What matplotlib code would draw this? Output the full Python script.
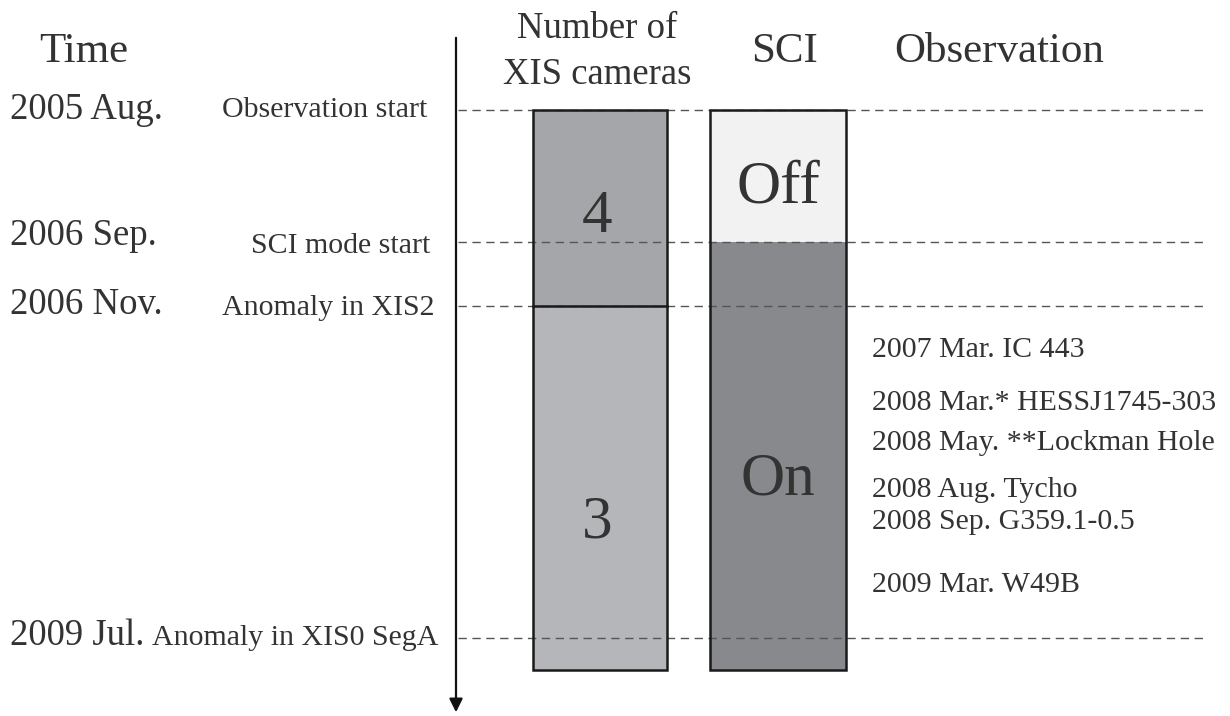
import matplotlib
matplotlib.use("Agg")
import matplotlib.pyplot as plt

plt.rcParams['font.family'] = ['Liberation Serif', 'DejaVu Serif']

# timeline events (schematic positions along the time axis, top -> bottom)
event_dates = ["2005 Aug.", "2006 Sep.", "2006 Nov.", "2009 Jul."]
event_notes = ["Observation start", "SCI mode start", "Anomaly in XIS2", "Anomaly in XIS0 SegA"]
event_pos = [110, 242, 306, 638]
timeline_end = 670

# number of XIS cameras: (start, end, label)
cam_starts = [110, 306]
cam_ends = [306, 670]
cam_labels = ["4", "3"]
cam_colors = ["#a5a6a9", "#b5b6b9"]

# SCI state
sci_starts = [110, 242]
sci_ends = [242, 670]
sci_labels = ["Off", "On"]
sci_colors = ["#f1f2f1", "#88898c"]

# observations done with SCI on
obs_labels = ["2007 Mar. IC 443", "2008 Mar.* HESSJ1745-303", "2008 May. **Lockman Hole",
              "2008 Aug. Tycho", "2008 Sep. G359.1-0.5", "2009 Mar. W49B"]
obs_pos = [350, 403, 443, 490, 522, 585]

txt = "#333333"

fig = plt.figure(figsize=(12.3, 7.16), dpi=100)
ax = fig.add_axes([0, 0, 1, 1])
ax.set_xlim(0, 1230)
ax.set_ylim(716, 0)
ax.axis("off")

# time arrow
ax.annotate("", xy=(456, 715), xytext=(456, 35),
            arrowprops=dict(arrowstyle="-|>", color="#111111", lw=1.6, mutation_scale=20))

# headers
ax.text(84, 52, "Time", fontsize=31, color=txt, ha="center", va="center")
ax.text(597, 52, "Number of\nXIS cameras", fontsize=26.5, color=txt, ha="center", va="center",
        linespacing=1.42)
ax.text(785, 52, "SCI", fontsize=31, color=txt, ha="center", va="center")
ax.text(999, 52, "Observation", fontsize=31, color=txt, ha="center", va="center")

# event labels
date_dy = [0, -6, -1, -2]
note_dy = [0, 4, 2, 0]
note_x = [222, 430, 222, 152]
note_ha = ["left", "right", "left", "left"]
for d, n, y, ddy, ndy, nx, ha in zip(event_dates, event_notes, event_pos, date_dy, note_dy, note_x, note_ha):
    ax.text(10, y + ddy, d, fontsize=26.5, color=txt, ha="left", va="center")
    ax.text(nx, y + ndy, n, fontsize=21.5, color=txt, ha=ha, va="center")
    ax.plot([458, 1205], [y, y], color="#555555", lw=1, ls=(0, (6, 4)), zorder=3)

# columns
cam_x, sci_x, width = 600, 778, 134
cam_text_y = [217, 523]
sci_text_y = [188, 480]
for s, e, lab, c, ty in zip(cam_starts, cam_ends, cam_labels, cam_colors, cam_text_y):
    ax.bar(cam_x, e - s, bottom=s, width=width, color=c, edgecolor="none", zorder=1)
    ax.text(cam_x - 3, ty, lab, fontsize=44, color=txt, ha="center", va="center", zorder=5)
for s, e, lab, c, ty in zip(sci_starts, sci_ends, sci_labels, sci_colors, sci_text_y):
    ax.bar(sci_x, e - s, bottom=s, width=width + 2, color=c, edgecolor="none", zorder=1)
    ax.text(sci_x, ty, lab, fontsize=44, color=txt, ha="center", va="center", zorder=5)

ax.bar(cam_x, timeline_end - cam_starts[0], bottom=cam_starts[0], width=width,
       fill=False, edgecolor="#1a1a1a", lw=1.8, zorder=4)
ax.bar(sci_x, timeline_end - sci_starts[0], bottom=sci_starts[0], width=width + 2,
       fill=False, edgecolor="#1a1a1a", lw=1.8, zorder=4)
ax.plot([cam_x - width / 2, cam_x + width / 2], [cam_ends[0], cam_ends[0]],
        color="#1a1a1a", lw=1.8, zorder=4)

# observation list
for lab, y in zip(obs_labels, obs_pos):
    ax.text(872, y, lab, fontsize=21.5, color=txt, ha="left", va="center")

fig.savefig("out.png", dpi=100, facecolor="white")
